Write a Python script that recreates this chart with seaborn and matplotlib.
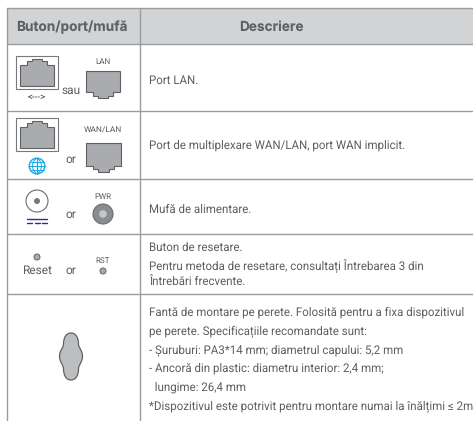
import matplotlib
matplotlib.use("Agg")
import matplotlib.pyplot as plt
import pandas as pd
import seaborn as sns
from matplotlib.patches import Circle, PathPatch, Polygon, Rectangle
from matplotlib.path import Path

# table content
header = ["Buton/port/mufă", "Descriere"]
descriptions = [
    ["Port LAN."],
    ["Port de multiplexare WAN/LAN, port WAN implicit."],
    ["Mufă de alimentare."],
    ["Buton de resetare.",
     "Pentru metoda de resetare, consultați Întrebarea 3 din",
     "Întrebări frecvente."],
    ["Fantă de montare pe perete. Folosită pentru a fixa dispozitivul",
     "pe perete. Specificațiile recomandate sunt:",
     "- Șuruburi: PA3*14 mm; diametrul capului: 5,2 mm",
     "- Ancoră din plastic: diametru interior: 2,4 mm;",
     "  lungime: 26,4 mm",
     "*Dispozitivul este potrivit pentru montare numai la înălțimi ≤ 2m"],
]
# y centre of each line of text, same shape as descriptions
desc_y = [[81], [145], [210], [248, 265, 282], [312, 332, 350, 368, 387, 406]]

# layout in pixels
W, H = 473, 421
col_x = [7, 140, 473]
row_y = [8, 44, 111, 179, 234, 294, 421]

RULE = "#9a9c9e"
TEXT = "#5c5e60"
GREY = "#a9abae"
DARK = "#5f6163"
BLUE = "#1ba7e8"
sns.set_theme(style="white")
plt.rcParams["font.family"] = ["Roboto", "DejaVu Sans"]
plt.rcParams["text.hinting"] = "no_hinting"  # keeps text widths linear with size
plt.rcParams["text.hinting_factor"] = 8

fig = plt.figure(figsize=(W / 100, H / 100), dpi=100)
ax = fig.add_axes([0, 0, 1, 1])

# header band
ax.add_patch(Rectangle((col_x[0], row_y[0]), W - col_x[0], row_y[1] - row_y[0], fc="#d1d3d4", ec="none"))

# rules, one unit per line
rules = []
for n, y in enumerate(row_y[:-1]):
    rules += [dict(rule=f"h{n}", x=col_x[0], y=y), dict(rule=f"h{n}", x=W, y=y)]
for x in col_x[:2]:
    rules += [dict(rule=f"v{x}", x=x, y=row_y[0]), dict(rule=f"v{x}", x=x, y=H)]
sns.lineplot(data=pd.DataFrame(rules), x="x", y="y", units="rule", estimator=None,
             sort=False, color=RULE, lw=1.0, ax=ax, legend=False)


def label(x, y, s, size=8.6, color=TEXT, ha="center", **kw):
    ax.text(x, y, s, fontsize=size, color=color, ha=ha, va="center", **kw)


def port(x0, y0, x1, y1, up=True):
    # RJ45 outline, notch steps on top if up else at the bottom
    w = x1 - x0
    h = y1 - y0
    prof = [(0, .82), (0, .22), (.2, .22), (.2, .09), (.34, .09), (.34, 0),
            (.66, 0), (.66, .09), (.8, .09), (.8, .22), (1, .22), (1, .82)]
    if up:
        pts = [(0, 1), *prof, (1, 1)]
        pts = [(x0 + a * w, y0 + b * h) for a, b in pts]
    else:
        pts = [(x0, y0), (x1, y0)] + [(x0 + a * w, y1 - (b * h)) for a, b in reversed(prof[:-1])]
    ax.add_patch(Polygon(pts, closed=True, fc=GREY, ec=DARK, lw=0.8))


def framed_port(y0):
    ax.add_patch(Rectangle((16, y0), 41.5, 33, fc="white", ec="#77797b", lw=0.8))
    port(20, y0 + 3, 54, y0 + 30)


# row 1
framed_port(56)
label(37, 97, "<--->", size=7, color="#444444")
label(71, 91, "sau")
label(103, 62, "LAN", size=5.8)
port(86, 71, 120, 98, up=False)

# row 2
framed_port(118)
ax.add_patch(Circle((37, 166), 7.8, fc="none", ec=BLUE, lw=1.0))
ax.plot([29.2, 44.8], [166, 166], color=BLUE, lw=0.8)
for yy in (162, 170):
    ax.plot([30.5, 43.5], [yy, yy], color=BLUE, lw=0.7)
ax.plot([37, 37], [158.2, 173.8], color=BLUE, lw=0.8)
el = Path([(37, 158.2), (31, 162), (31, 170), (37, 173.8), (43, 170), (43, 162), (37, 158.2)],
          [Path.MOVETO, Path.CURVE4, Path.CURVE4, Path.CURVE4, Path.CURVE4, Path.CURVE4, Path.CURVE4])
ax.add_patch(PathPatch(el, fc="none", ec=BLUE, lw=0.7))
label(71, 160, "or")
label(103, 130, "WAN/LAN", size=6)
port(86, 143, 121, 172, up=False)

# row 3
ax.add_patch(Circle((37, 201), 11, fc="white", ec="#6b6d6f", lw=0.8))
ax.add_patch(Circle((37, 201), 3, fc="#77797b", ec="none"))
ax.plot([27, 47], [218.5, 218.5], color="#2b2f8f", lw=1.0)
for xs in (27, 34.5, 42):
    ax.plot([xs, xs + 5], [222.5, 222.5], color="#2b2f8f", lw=1.0)
label(71, 215, "or")
label(103, 197, "PWR", size=5.8)
ax.add_patch(Circle((103, 214), 10, fc="#8a8c8e", ec="#6b6d6f", lw=0.8))
ax.add_patch(Circle((103, 214), 3.8, fc="#c4c6c8", ec="none"))

# row 4
ax.add_patch(Circle((37, 257), 3, fc=GREY, ec=DARK, lw=0.7))
label(37, 271, "Reset")
label(71, 271, "or")
label(103, 261, "RST", size=5.8)
ax.add_patch(Circle((103, 271), 3, fc=GREY, ec=DARK, lw=0.7))

# row 5, keyhole slot
cx, top, bot = 71, 333, 380
half = [(0, top), (5, top), (7.5, top + 5), (7.5, top + 11), (7.5, top + 15), (11.5, top + 17),
        (11.5, 356.5), (11.5, bot - 18), (7.5, bot - 15), (7.5, bot - 11), (7.5, bot - 5), (5, bot), (0, bot)]
right = [(cx + a, b) for a, b in half]
left = [(cx - a, b) for a, b in reversed(half[:-1])]
verts = right + left
codes = [Path.MOVETO] + [Path.CURVE4] * (len(verts) - 1)
ax.add_patch(PathPatch(Path(verts, codes), fc="#bcbec0", ec=DARK, lw=0.9))

# header text
label(71.5, 27, header[0], size=9.8, color=DARK, fontweight="bold", family="Inter")
label(271, 27, header[1], size=9.8, color=DARK, fontweight="bold", family="Inter")

# descriptions
for lines, ys in zip(descriptions, desc_y):
    for s, y in zip(lines, ys):
        label(149, y, s, size=8.3, ha="left")

ax.set_xlim(0, W)
ax.set_ylim(H, 0)
ax.axis("off")
fig.savefig("out.png", dpi=100, facecolor="white")
plt.close(fig)
